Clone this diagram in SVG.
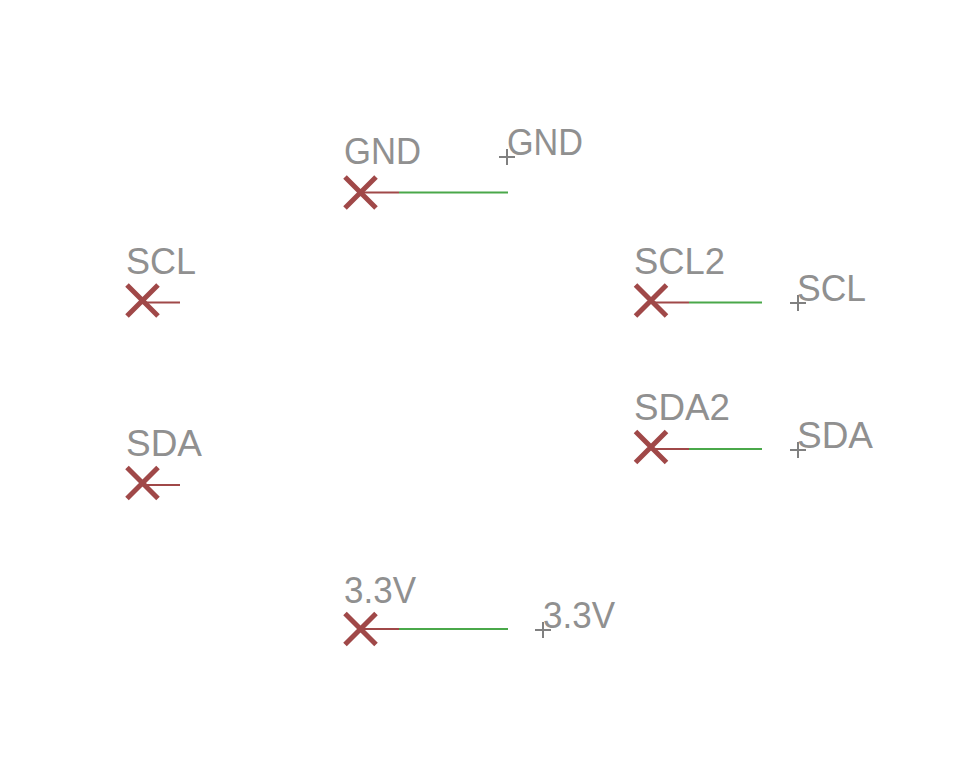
<svg xmlns="http://www.w3.org/2000/svg" width="970" height="771" viewBox="0 0 970 771">
<style>
.t{font-family:"Liberation Sans",Arial,sans-serif;font-size:36px;fill:#909090}
.x{stroke:#a04848;stroke-width:5;fill:none}
.r{stroke:#a04848;stroke-width:2;fill:none}
.g{stroke:#4aa84a;stroke-width:2;fill:none}
.p{stroke:#808080;stroke-width:2;fill:none}
</style>
<defs>
<g id="cross"><path class="x" d="M-15.500 -15.500L15.500 15.500M-15.500 15.500L15.500 -15.500"/></g>
<g id="plus"><path class="p" d="M-8 0H8M0 -8V8"/></g>
</defs>
<rect width="970" height="771" fill="#fff"/>
<g id="connectors">
<path class="r" d="M360 192.500H399M142 302.500H180M651 302.500H689M142 485H180M651 449H689M360 629H399"/>
<path class="g" d="M399 192.500H508M689 302.500H762M689 449H762M399 629H508"/>
</g>
<g id="pad-gnd"><use href="#cross" x="360.500" y="192.500"/><text class="t" x="344" y="164" textLength="77" lengthAdjust="spacingAndGlyphs">GND</text></g>
<g id="pad-scl"><use href="#cross" x="142.500" y="300.500"/><text class="t" x="126" y="274" textLength="70" lengthAdjust="spacingAndGlyphs">SCL</text></g>
<g id="pad-sda"><use href="#cross" x="142.500" y="483"/><text class="t" x="126" y="456" textLength="76" lengthAdjust="spacingAndGlyphs">SDA</text></g>
<g id="pad-scl2"><use href="#cross" x="651" y="300.500"/><text class="t" x="634" y="274" textLength="91" lengthAdjust="spacingAndGlyphs">SCL2</text></g>
<g id="pad-sda2"><use href="#cross" x="651" y="447"/><text class="t" x="634" y="420" textLength="96" lengthAdjust="spacingAndGlyphs">SDA2</text></g>
<g id="pad-33v"><use href="#cross" x="360.500" y="629"/><text class="t" x="344" y="603" textLength="72" lengthAdjust="spacingAndGlyphs">3.3V</text></g>
<g id="net-gnd"><use href="#plus" x="507" y="157"/><text class="t" x="507" y="155" textLength="76" lengthAdjust="spacingAndGlyphs">GND</text></g>
<g id="net-scl"><use href="#plus" x="798" y="303"/><text class="t" x="797" y="301" textLength="69" lengthAdjust="spacingAndGlyphs">SCL</text></g>
<g id="net-sda"><use href="#plus" x="798" y="450"/><text class="t" x="797" y="448" textLength="76" lengthAdjust="spacingAndGlyphs">SDA</text></g>
<g id="net-33v"><use href="#plus" x="543" y="630"/><text class="t" x="543" y="628" textLength="72" lengthAdjust="spacingAndGlyphs">3.3V</text></g>
</svg>
